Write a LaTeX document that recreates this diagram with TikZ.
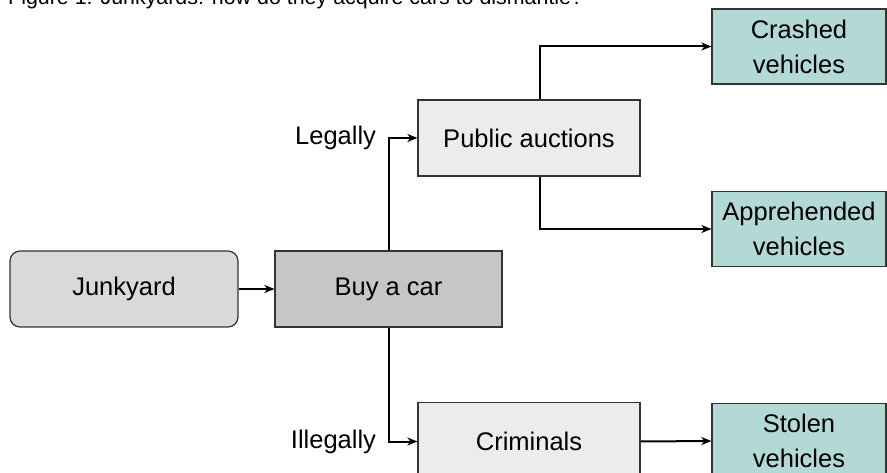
\documentclass[tikz,border=0pt]{standalone}
\usepackage{fontspec}
\setmainfont{Liberation Sans}
\usetikzlibrary{arrows.meta}
\definecolor{junkfill}{HTML}{D9D9D9}
\definecolor{buyfill}{HTML}{C6C6C6}
\definecolor{midfill}{HTML}{ECECEC}
\definecolor{tealfill}{HTML}{B3D9D7}
\definecolor{edge}{HTML}{333333}
\tikzset{
  box/.style={draw=edge, line width=1.2pt, minimum height=76pt, inner sep=0pt, align=center,
    font=\fontsize{25.5}{35}\selectfont},
  junkbox/.style={box, fill=junkfill, rounded corners=10pt, minimum width=228pt},
  buybox/.style={box, fill=buyfill, minimum width=227pt},
  midbox/.style={box, fill=midfill, minimum width=222pt},
  outbox/.style={box, fill=tealfill, minimum width=174pt, minimum height=75pt},
  conn/.style={line width=2pt, -{Stealth[length=10pt,width=8pt,inset=3pt]}},
  lbl/.style={font=\fontsize{25.5}{30}\selectfont, inner sep=0pt, anchor=east}
}
\begin{document}
\begin{tikzpicture}[x=1pt,y=-1pt]
\clip (0,0) rectangle (887,473);
\fill[white] (0,0) rectangle (887,473);
\node[anchor=base west, inner sep=0pt, font=\fontsize{21.4}{25}\selectfont] (title) at (8,5) {Figure 1: Junkyards: how do they acquire cars to dismantle?};
\node[junkbox] (junk) at (124,289) {Junkyard};
\node[buybox] (buy) at (388.5,289) {Buy a car};
\node[midbox] (pub) at (529,138) {Public auctions};
\node[midbox, minimum height=78pt] (crim) at (529,441.5) {Criminals};
\node[outbox] (crash) at (799,46.5) {Crashed\\vehicles};
\node[outbox] (appr) at (799,229) {Apprehended\\vehicles};
\node[outbox] (stolen) at (799,441) {Stolen\\vehicles};
\draw[conn] (junk.east) -- (buy.west);
\draw[conn] (buy.north) |- node[lbl, pos=0.5, xshift=-11.5pt] (legal) {Legally} (pub.west);
\draw[conn] (buy.south) |- node[lbl, pos=0.5, xshift=-11.5pt] (illegal) {Illegally} (crim.west);
\draw[conn] ([xshift=11pt]pub.north) |- (crash.west);
\draw[conn] ([xshift=11pt]pub.south) |- (appr.west);
\draw[conn] (crim.east) -- (stolen.west);
\end{tikzpicture}
\end{document}
